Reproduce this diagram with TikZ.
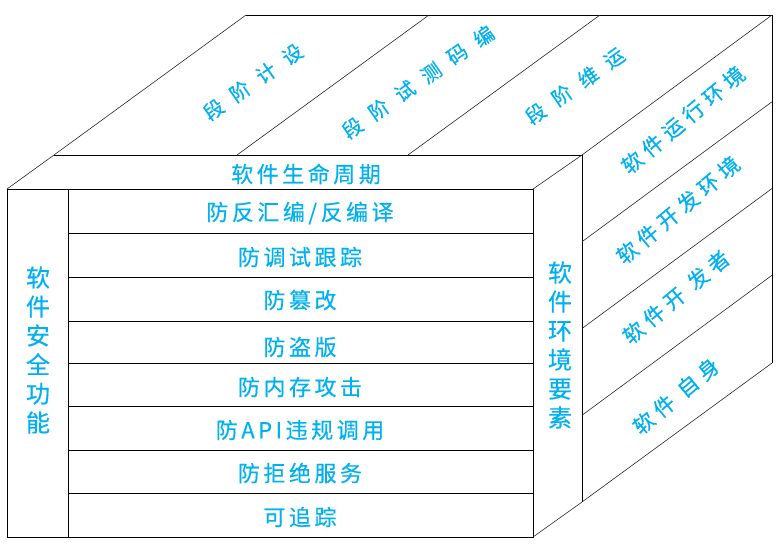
\documentclass[tikz,border=0pt]{standalone}
\usepackage{fontspec}
\usepackage{graphicx}
\newfontfamily\cjk[FakeBold=0.4]{Noto Sans CJK SC}
\usetikzlibrary{positioning}
\definecolor{txtblue}{HTML}{00B0F0}
\newcommand{\rchar}[1]{\rotatebox{90}{#1}}
\tikzset{
  lbl/.style={text=txtblue, inner sep=0pt, font=\cjk\fontsize{22}{26}\selectfont\addfontfeature{LetterSpace=16}},
  vlbl/.style={text=txtblue, inner sep=0pt, align=center, font=\cjk\fontsize{24}{29}\selectfont},
  tlbl/.style={text=txtblue, inner sep=0pt, align=center, rotate=-55, font=\cjk\fontsize{20}{32}\selectfont},
  slbl/.style={text=txtblue, inner sep=0pt, rotate=40, font=\cjk\fontsize{21}{26}\selectfont\addfontfeature{LetterSpace=26}},
  edge/.style={draw=black, line width=1pt},
  slant/.style={draw=black!85, line width=0.6pt}
}
\begin{document}
\begin{tikzpicture}[x=1pt,y=-1pt]
\useasboundingbox (0,0) rectangle (778,547);
\coordinate (fa) at (7,189);
\coordinate (fb) at (533,189);
\coordinate (fc) at (533,537);
\coordinate (fd) at (7,537);
\coordinate (ga) at (68,189);
\coordinate (gd) at (68,537);
\coordinate (ba) at (54,155);
\coordinate (bb) at (582,155);
\coordinate (bc) at (582,502);
\coordinate (ta) at (246,15);
\coordinate (tb) at (772,15);
\coordinate (tc) at (772,363);
\coordinate (sa) at (237,155);
\coordinate (sb) at (429,15);
\coordinate (sc) at (408,155);
\coordinate (sd) at (600,15);
\coordinate (ra) at (582,241.75);
\coordinate (rb) at (772,101.75);
\coordinate (rc) at (582,328.5);
\coordinate (rd) at (772,188.5);
\coordinate (re) at (582,415.25);
\coordinate (rf) at (772,275.25);

\draw[edge] (fa) -- (fb) -- (fc) -- (fd) -- cycle;
\draw[edge] (ga) -- (gd);
\draw[edge] (68,233) -- (533,233);
\draw[edge] (68,277) -- (533,277);
\draw[edge] (68,321) -- (533,321);
\draw[edge] (68,363) -- (533,363);
\draw[edge] (68,406) -- (533,406);
\draw[edge] (68,450) -- (533,450);
\draw[edge] (68,493) -- (533,493);
\draw[edge] (ba) -- (bb);
\draw[edge] (bb) -- (bc);
\draw[edge] (ta) -- (tb);
\draw[edge] (tb) -- (tc);
\draw[slant] (fa) -- (ba) -- (ta);
\draw[slant] (fb) -- (bb) -- (tb);
\draw[slant] (fc) -- (bc) -- (tc);
\draw[slant] (sa) -- (sb);
\draw[slant] (sc) -- (sd);
\draw[slant] (ra) -- (rb);
\draw[slant] (rc) -- (rd);
\draw[slant] (re) -- (rf);

\node[lbl] (life) at (306,174) {软件生命周期};
\node[lbl] (r1) at (300,213) {防反汇编/反编译};
\node[lbl] (r2) at (300,257) {防调试跟踪};
\node[lbl] (r3) at (300,300) {防篡改};
\node[lbl] (r4) at (300,347) {防盗版};
\node[lbl] (r5) at (300,387) {防内存攻击};
\node[lbl] (r6) at (300,430) {防API违规调用};
\node[lbl] (r7) at (300,473) {防拒绝服务};
\node[lbl] (r8) at (300,517) {可追踪};
\node[vlbl] (secure) at (38,350) {软\\件\\安\\全\\功\\能};
\node[vlbl] (envir) at (560,345) {软\\件\\环\\境\\要\\素};
\node[tlbl] (design) at (253,82) {\rchar{设}\\\rchar{计}\\\rchar{阶}\\\rchar{段}};
\node[tlbl] (coding) at (418,82) {\rchar{编}\\\rchar{码}\\\rchar{测}\\\rchar{试}\\\rchar{阶}\\\rchar{段}};
\node[tlbl] (ops) at (575,86) {\rchar{运}\\\rchar{维}\\\rchar{阶}\\\rchar{段}};
\node[slbl] (runenv) at (683,120) {软件运行环境};
\node[slbl] (devenv) at (678,210) {软件开发环境};
\node[slbl] (dever) at (676,297) {软件开 发者};
\node[slbl] (self) at (676,396) {软件 自身};
\end{tikzpicture}
\end{document}
